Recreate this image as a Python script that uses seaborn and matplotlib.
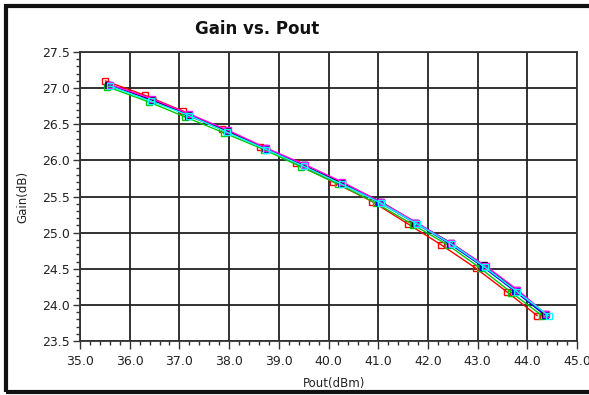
import pandas as pd
import matplotlib.pyplot as plt
import seaborn as sns
from matplotlib.patches import Rectangle
from matplotlib.ticker import MultipleLocator

sns.set_style("white")
plt.rcParams['font.family'] = ['DejaVu Sans']

# Gain vs Pout sweeps, one per trace colour
series_names = ['red', 'green', 'blue', 'black', 'magenta', 'cyan']
series_colors = ['#ff0000', '#00cc00', '#0000ff', '#000000', '#ff00ff', '#00ffff']

pout_red = [35.51, 36.31, 37.08, 37.85, 38.63, 39.35, 40.10, 40.88, 41.60, 42.27, 42.96, 43.59, 44.20]
gain_red = [27.10, 26.90, 26.68, 26.44, 26.19, 25.96, 25.70, 25.43, 25.12, 24.83, 24.51, 24.18, 23.85]

pout_green = [35.55, 36.38, 37.12, 37.90, 38.70, 39.45, 40.20, 40.95, 41.70, 42.40, 43.05, 43.68, 44.30]
gain_green = [27.02, 26.81, 26.60, 26.38, 26.15, 25.91, 25.67, 25.41, 25.11, 24.83, 24.51, 24.17, 23.85]

pout_blue = [35.57, 36.45, 37.18, 37.95, 38.75, 39.50, 40.25, 41.02, 41.75, 42.45, 43.10, 43.75, 44.35]
gain_blue = [27.04, 26.84, 26.62, 26.40, 26.16, 25.93, 25.68, 25.42, 25.13, 24.84, 24.53, 24.19, 23.86]

pout_black = [35.58, 36.45, 37.20, 37.95, 38.72, 39.50, 40.27, 41.05, 41.75, 42.46, 43.12, 43.78, 44.35]
gain_black = [27.05, 26.84, 26.63, 26.41, 26.17, 25.93, 25.69, 25.43, 25.14, 24.86, 24.55, 24.21, 23.88]

pout_magenta = [35.60, 36.45, 37.20, 37.97, 38.75, 39.53, 40.28, 41.06, 41.77, 42.47, 43.16, 43.80, 44.38]
gain_magenta = [27.05, 26.85, 26.64, 26.42, 26.17, 25.94, 25.70, 25.42, 25.14, 24.85, 24.54, 24.21, 23.87]

pout_cyan = [35.60, 36.42, 37.20, 37.96, 38.75, 39.50, 40.27, 41.05, 41.78, 42.48, 43.15, 43.80, 44.43]
gain_cyan = [27.03, 26.82, 26.62, 26.39, 26.15, 25.92, 25.67, 25.41, 25.12, 24.84, 24.52, 24.18, 23.85]

pouts = [pout_red, pout_green, pout_blue, pout_black, pout_magenta, pout_cyan]
gains = [gain_red, gain_green, gain_blue, gain_black, gain_magenta, gain_cyan]

frames = []
for name, px, gy in zip(series_names, pouts, gains):
    frames.append(pd.DataFrame({'Pout': px, 'Gain': gy, 'series': name}))
df = pd.concat(frames, ignore_index=True)

fig = plt.figure(figsize=(5.89, 3.95), dpi=100)
ax = fig.add_axes([80 / 589, 1 - 341 / 395, 497 / 589, 289 / 395])

sns.lineplot(data=df, x='Pout', y='Gain', hue='series', hue_order=series_names,
             palette=dict(zip(series_names, series_colors)), sort=False,
             estimator=None, legend=False, marker='s', markersize=5,
             markerfacecolor='none', markeredgewidth=1.0, linewidth=1.0, ax=ax)
# hollow squares drawn in the trace colour
for line in ax.lines:
    line.set_markeredgecolor(line.get_color())

ax.set_xlim(35, 45)
ax.set_ylim(23.5, 27.5)
ax.xaxis.set_major_locator(MultipleLocator(1.0))
ax.xaxis.set_minor_locator(MultipleLocator(0.2))
ax.yaxis.set_major_locator(MultipleLocator(0.5))
ax.yaxis.set_minor_locator(MultipleLocator(0.1))
ax.xaxis.set_major_formatter(lambda v, p: f"{v:.1f}")
ax.yaxis.set_major_formatter(lambda v, p: f"{v:.1f}")
ax.grid(True, which='major', color='#222222', linewidth=1.3)
ax.set_axisbelow(True)
for s in ax.spines.values():
    s.set_color('#333333')
    s.set_linewidth(1.3)
ax.tick_params(axis='both', which='both', bottom=True, left=True, top=False, right=False)
ax.tick_params(axis='y', which='major', direction='out', length=5, width=1,
               color='#333333', labelsize=9, labelcolor='#222222', pad=2)
ax.tick_params(axis='x', which='major', direction='out', length=6, width=1,
               color='#333333', labelsize=9, labelcolor='#222222', pad=4)
ax.tick_params(axis='both', which='minor', direction='out', length=3, width=1,
               color='#333333')
ax.set_xlabel('Pout(dBm)', fontsize=8.5, color='#222222')
ax.set_ylabel('Gain(dB)', fontsize=8.5, color='#222222')
ax.xaxis.set_label_coords((334 - 80) / 497, -(383 - 341) / 289)
ax.yaxis.set_label_coords(-(80 - 23) / 497, 0.5)
ax.xaxis.label.set_va('center')
ax.yaxis.label.set_va('center')

fig.text(257 / 589, 1 - 29 / 395, 'Gain vs. Pout', ha='center', va='center',
         fontsize=12, fontweight='bold', color='#111111')

# thick frame round the chart panel
fig.patches.append(Rectangle((6 / 589, 1 - 392 / 395), 1.1, 386 / 395,
                             transform=fig.transFigure, fill=False,
                             edgecolor='#111111', linewidth=3))

fig.savefig('out.png', dpi=100)
